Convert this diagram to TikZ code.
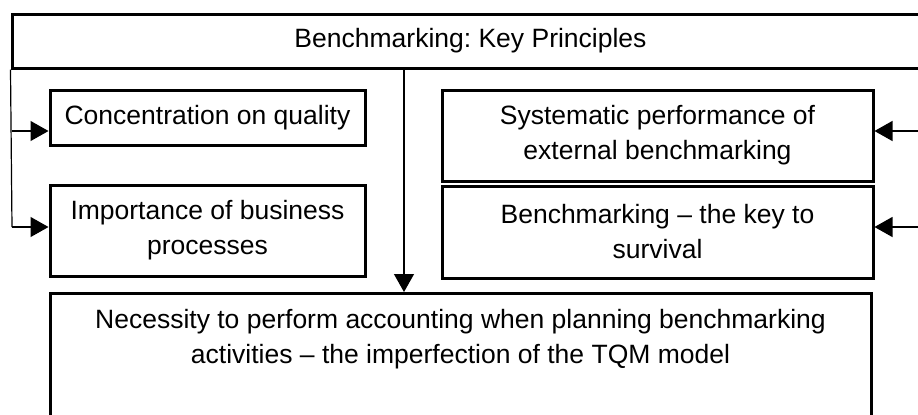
\documentclass[tikz,border=0pt]{standalone}
\usepackage{fontspec}
\setmainfont{Liberation Sans}
\usetikzlibrary{arrows.meta}
\frenchspacing

\begin{document}
\begin{tikzpicture}[x=0.5pt, y=-0.5pt, every node/.style={font=\fontsize{13.25}{17.5}\selectfont}, >={Triangle[length=9pt, width=10pt]}, box/.style={draw, line width=1.5pt, align=center, inner sep=0pt}, conn/.style={line width=0.6pt}]
	\clip (0,0) rectangle (918,414);
	\node[box, minimum width=458.5pt, minimum height=27pt] (title) at (470.5,41) {Benchmarking: Key Principles};
	\node[box, minimum width=157.5pt, minimum height=27.5pt] (qual) at (207.5,117.5) {Concentration on quality};
	\node[box, minimum width=157.5pt, minimum height=45.5pt] (proc) at (207.5,230.5) {Importance of business\\processes};
	\node[box, minimum width=215.5pt, minimum height=45.5pt] (ext) at (657.5,135.5) {Systematic performance of\\external benchmarking};
	\node[box, minimum width=215.5pt, minimum height=46pt] (surv) at (657.5,232) {Benchmarking -- the key to\\survival};
	\node[box, anchor=north, minimum width=410.5pt, minimum height=100pt] (need) at (460.5,292) {};
	\node[align=center, inner sep=0pt, anchor=north] (needtext) at (460.5,309) {Necessity to perform accounting when planning benchmarking\\activities -- the imperfection of the TQM model};
	% connectors
	\coordinate (l1) at (12,131);
	\coordinate (l2) at (12,227);
	\coordinate (r1) at (929,131);
	\coordinate (r2) at (929,227);
	\coordinate (d) at (404,0);
	\draw[conn] (title.south west) -- (l2);
	\draw[conn, ->] (l1) -- (l1 -| qual.west);
	\draw[conn, ->] (l2) -- (l2 -| proc.west);
	\draw[conn] (title.south east) -- (r2);
	\draw[conn, ->] (r1) -- (r1 -| ext.east);
	\draw[conn, ->] (r2) -- (r2 -| surv.east);
	\draw[conn, ->] (d |- title.south) -- (d |- need.north);
\end{tikzpicture}
\end{document}
